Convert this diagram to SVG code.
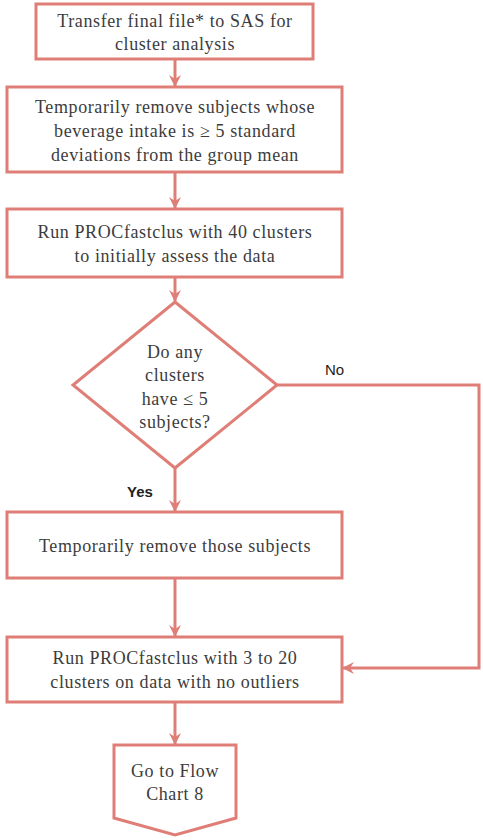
<svg xmlns="http://www.w3.org/2000/svg" width="483" height="840" viewBox="0 0 483 840">
  <style>
    .box { fill: #ffffff; stroke: #df7e77; stroke-width: 3; }
    .edge { fill: none; stroke: #df7e77; stroke-width: 3; }
    .t { font-family: "Liberation Serif", "Times New Roman", serif; font-size: 18px; letter-spacing: 0.6px; fill: #3c3c3c; text-anchor: middle; }
    .lbl { font-family: "Liberation Sans", Arial, sans-serif; font-size: 15px; fill: #222222; }
  </style>
  <defs>
    <marker id="arrow" viewBox="0 0 12 12" refX="11" refY="6" markerWidth="12" markerHeight="12" markerUnits="userSpaceOnUse" orient="auto">
      <path d="M0,0 L12,6 L0,12 L4,6 z" fill="#df7e77"/>
    </marker>
  </defs>

  <g id="connectors">
    <line class="edge" x1="175" y1="59" x2="175" y2="86" marker-end="url(#arrow)"/>
    <line class="edge" x1="175" y1="172" x2="175" y2="208" marker-end="url(#arrow)"/>
    <line class="edge" x1="175" y1="277" x2="175" y2="301" marker-end="url(#arrow)"/>
    <line class="edge" x1="175" y1="468" x2="175" y2="511" marker-end="url(#arrow)"/>
    <line class="edge" x1="175" y1="578" x2="175" y2="636" marker-end="url(#arrow)"/>
    <line class="edge" x1="175" y1="702" x2="175" y2="744" marker-end="url(#arrow)"/>
    <polyline class="edge" points="277,385 479,385 479,668 343,668" marker-end="url(#arrow)"/>
    <text class="lbl" x="325" y="375">No</text>
    <text class="lbl" x="127" y="497" font-size="14" font-weight="bold">Yes</text>
  </g>

  <g id="transfer">
    <rect class="box" x="36" y="4" width="277" height="55"/>
    <text class="t" x="175" y="27">Transfer final file* to SAS for</text>
    <text class="t" x="175" y="50">cluster analysis</text>
  </g>

  <g id="remove-outliers">
    <rect class="box" x="7" y="87" width="335" height="85"/>
    <text class="t" x="175" y="113">Temporarily remove subjects whose</text>
    <text class="t" x="175" y="137">beverage intake is ≥ 5 standard</text>
    <text class="t" x="175" y="161">deviations from the group mean</text>
  </g>

  <g id="fastclus-40">
    <rect class="box" x="7" y="209" width="335" height="68"/>
    <text class="t" x="175" y="238">Run PROCfastclus with 40 clusters</text>
    <text class="t" x="175" y="262">to initially assess the data</text>
  </g>

  <g id="decision">
    <polygon class="box" points="175,302 277,385 175,468 73,385"/>
    <text class="t" x="175" y="358">Do any</text>
    <text class="t" x="175" y="381">clusters</text>
    <text class="t" x="175" y="405">have ≤ 5</text>
    <text class="t" x="175" y="428">subjects?</text>
  </g>

  <g id="remove-subjects">
    <rect class="box" x="7" y="512" width="335" height="66"/>
    <text class="t" x="175" y="552">Temporarily remove those subjects</text>
  </g>

  <g id="fastclus-3-20">
    <rect class="box" x="7" y="637" width="335" height="65"/>
    <text class="t" x="175" y="664">Run PROCfastclus with 3 to 20</text>
    <text class="t" x="175" y="688">clusters on data with no outliers</text>
  </g>

  <g id="offpage">
    <polygon class="box" points="114,745 236,745 236,818 175,835 114,818"/>
    <text class="t" x="175" y="777">Go to Flow</text>
    <text class="t" x="175" y="800">Chart 8</text>
  </g>
</svg>
